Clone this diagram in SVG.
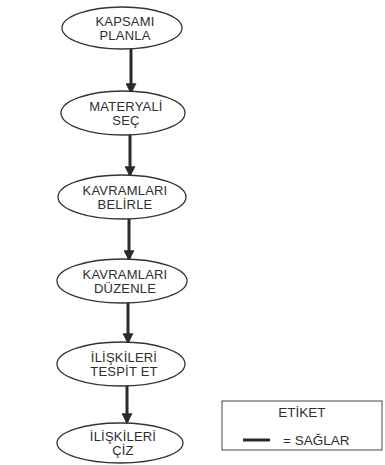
<svg xmlns="http://www.w3.org/2000/svg" width="385" height="465" viewBox="0 0 385 465">
  <style>
    .node ellipse { fill: #ffffff; stroke: #333333; stroke-width: 1.3; }
    .node text { font-family: "Liberation Sans", Arial, sans-serif; font-size: 13px; letter-spacing: 0.2px; fill: #2e2e2e; text-anchor: middle; }
    .legend text { font-family: "Liberation Sans", Arial, sans-serif; font-size: 13.5px; fill: #2e2e2e; }
    .edge { stroke: #2a2a2a; stroke-width: 3; fill: none; marker-end: url(#arrow); }
  </style>
  <defs>
    <marker id="arrow" viewBox="0 0 10 10" refX="8" refY="5" markerUnits="userSpaceOnUse" markerWidth="11" markerHeight="11" orient="auto">
      <path d="M0,0 L10,5 L0,10 Z" fill="#2a2a2a"/>
    </marker>
  </defs>
  <rect width="385" height="465" fill="#ffffff"/>

  <g id="connectors">
    <line class="edge" x1="131" y1="49" x2="131" y2="92"/>
    <line class="edge" x1="130" y1="135" x2="130" y2="175"/>
    <line class="edge" x1="129" y1="219" x2="129" y2="259"/>
    <line class="edge" x1="128" y1="303" x2="128" y2="342"/>
    <line class="edge" x1="127" y1="386" x2="127" y2="422"/>
  </g>

  <g id="n1" class="node">
    <ellipse cx="122" cy="28" rx="60" ry="21"/>
    <text x="125" y="26">KAPSAMI</text>
    <text x="125" y="40">PLANLA</text>
  </g>
  <g id="n2" class="node">
    <ellipse cx="123" cy="113" rx="62" ry="22"/>
    <text x="126" y="111">MATERYALİ</text>
    <text x="126" y="125">SEÇ</text>
  </g>
  <g id="n3" class="node">
    <ellipse cx="122" cy="197" rx="64" ry="22"/>
    <text x="125" y="195">KAVRAMLARI</text>
    <text x="125" y="209">BELİRLE</text>
  </g>
  <g id="n4" class="node">
    <ellipse cx="122" cy="281" rx="65" ry="22"/>
    <text x="125" y="279">KAVRAMLARI</text>
    <text x="125" y="293">DÜZENLE</text>
  </g>
  <g id="n5" class="node">
    <ellipse cx="121" cy="364" rx="64" ry="22"/>
    <text x="124" y="362">İLİŞKİLERİ</text>
    <text x="124" y="376">TESPİT ET</text>
  </g>
  <g id="n6" class="node">
    <ellipse cx="120" cy="443" rx="63" ry="20"/>
    <text x="123" y="441">İLİŞKİLERİ</text>
    <text x="123" y="455">ÇİZ</text>
  </g>

  <g id="legend" class="legend">
    <rect x="222" y="401" width="160" height="49" fill="#ffffff" stroke="#444444" stroke-width="1"/>
    <text x="302" y="417" text-anchor="middle">ETİKET</text>
    <line x1="243" y1="440" x2="270" y2="440" stroke="#2a2a2a" stroke-width="3"/>
    <text x="283" y="445">= SAĞLAR</text>
  </g>
</svg>
